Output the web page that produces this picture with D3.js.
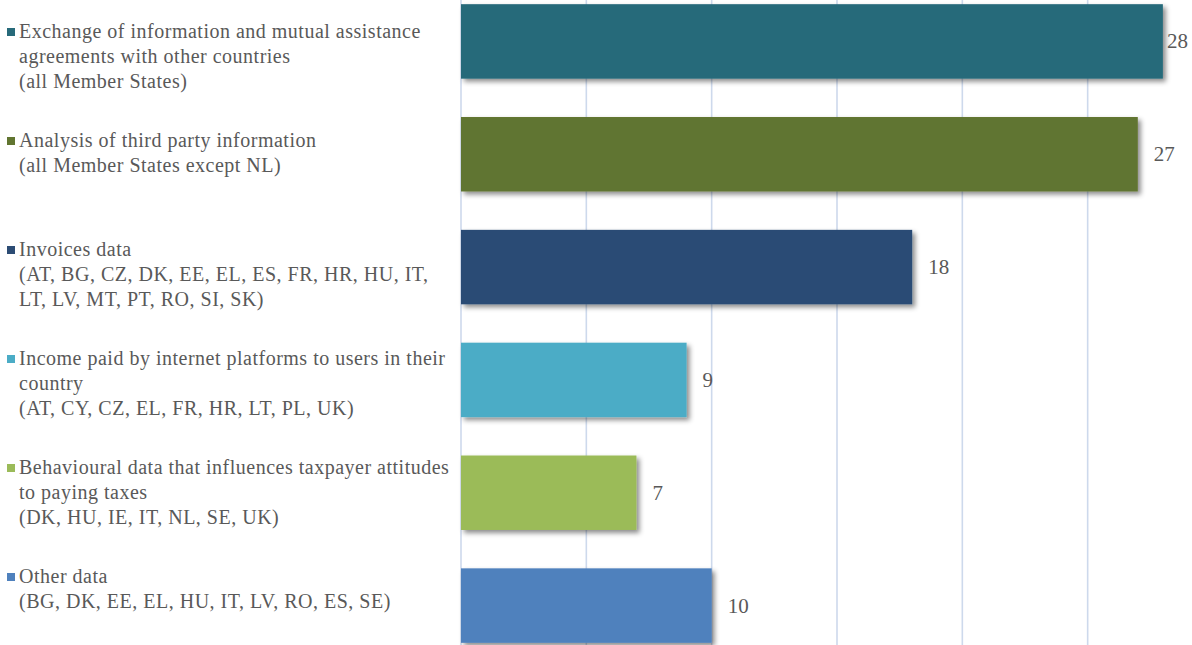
<!DOCTYPE html>
<html>
<head>
<meta charset="utf-8">
<script src="https://cdn.jsdelivr.net/npm/d3@7"></script>
<style>
  html, body { margin: 0; padding: 0; background: #fff; }
  svg { display: block; }
  svg text, svg tspan { font-family: "Liberation Serif", Tinos, "DejaVu Serif", "Times New Roman", Times, serif !important; }
</style>
</head>
<body>
<svg id="chart" width="1192" height="645"></svg>
<script>
// Data sources used by tax administrations (number of Member States)
const categories = [
  "Exchange of information",
  "Analysis of third party information",
  "Invoices data",
  "Income paid by internet platforms",
  "Behavioural data",
  "Other data"
];
const labelLines = [
  ["Exchange of information and mutual assistance", "agreements with other countries", "(all Member States)"],
  ["Analysis of third party information", "(all Member States except NL)"],
  ["Invoices data", "(AT, BG, CZ, DK, EE, EL, ES, FR, HR, HU, IT,", "LT, LV, MT, PT, RO, SI, SK)"],
  ["Income paid by internet platforms to users in their", "country", "(AT, CY, CZ, EL, FR, HR, LT, PL, UK)"],
  ["Behavioural data that influences taxpayer attitudes", "to paying taxes", "(DK, HU, IE, IT, NL, SE, UK)"],
  ["Other data", "(BG, DK, EE, EL, HU, IT, LV, RO, ES, SE)"]
];
const values = [28, 27, 18, 9, 7, 10];
const colors = ["#276a7a", "#617530", "#2c4c74", "#4bacc6", "#9bbb59", "#4f81bd"];
const gridTicks = [0, 5, 10, 15, 20, 25];

const W = 1192, H = 645;
const svg = d3.select("#chart");

const x = d3.scaleLinear().domain([0, 30]).range([461, 1213]);
const y = d3.scaleBand().domain(categories).range([-15, 662])
  .paddingInner(0.34).paddingOuter(0.17);
// label column has its own vertical rhythm
const yLab = d3.scalePoint().domain(categories).range([32, 577]);

const defs = svg.append("defs");
const f = defs.append("filter").attr("id", "shadow")
  .attr("x", "-5%").attr("y", "-20%").attr("width", "115%").attr("height", "150%");
f.append("feDropShadow").attr("dx", 3).attr("dy", 3).attr("stdDeviation", 2.5)
  .attr("flood-color", "#000").attr("flood-opacity", 0.45);

// gridlines
svg.append("g").selectAll("line").data(gridTicks).join("line")
  .attr("x1", d => x(d)).attr("x2", d => x(d))
  .attr("y1", 0).attr("y2", H)
  .attr("stroke", "#cdd9ec").attr("stroke-width", 1.6);

// bars
svg.append("g").selectAll("rect").data(categories).join("rect")
  .attr("x", x(0))
  .attr("y", d => y(d))
  .attr("width", (d, i) => x(values[i]) - x(0))
  .attr("height", y.bandwidth())
  .attr("fill", (d, i) => colors[i])
  .attr("filter", "url(#shadow)");

// value labels (kept inside the right edge)
svg.append("g").selectAll("text").data(categories).join("text")
  .attr("x", (d, i) => Math.min(x(values[i]) + 16, W - 25))
  .attr("y", d => y(d) + y.bandwidth() / 2 + 7)
  .style("font-size", "21px")
  .attr("fill", "#595959")
  .text((d, i) => values[i]);

// category labels with colour keys
const lab = svg.append("g").selectAll("g").data(categories).join("g")
  .attr("transform", d => `translate(0,${yLab(d)})`);
lab.append("rect")
  .attr("x", 7).attr("y", -4).attr("width", 8).attr("height", 8)
  .attr("fill", (d, i) => colors[i]);
lab.append("text")
  .style("font-size", "20px")
  .style("letter-spacing", "0.5px")
  .attr("fill", "#595959")
  .selectAll("tspan").data((d, i) => labelLines[i]).join("tspan")
  .attr("x", 19)
  .attr("y", (d, j) => 6 + j * 25)
  .text(d => d);
</script>
</body>
</html>
